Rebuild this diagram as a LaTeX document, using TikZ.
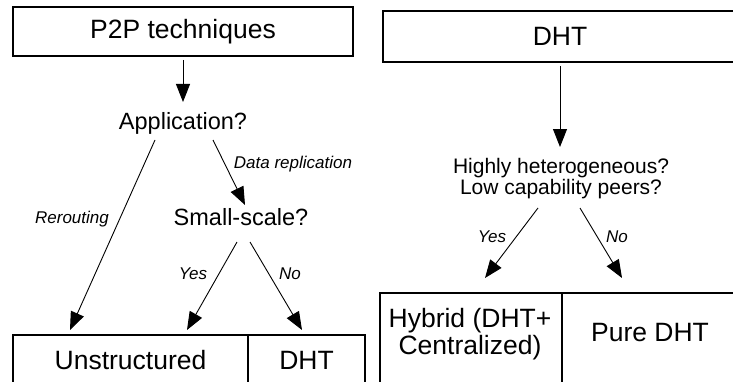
\documentclass[tikz,border=0pt]{standalone}
\usepackage{fontspec}
\setmainfont{Liberation Sans}
\usepackage{tikz}
\usetikzlibrary{arrows.meta, positioning}
\tikzstyle{every node}=[inner sep=0pt, outer sep=0pt]
\tikzset{CellStyle/.style = {
						shape          = rectangle,
			      draw           = black,
			      line width     = 1.2pt,
			      font           = \fontsize{26.5}{28}\selectfont},
			 TextStyle/.style = {
			      align          = center,
			      font           = \fontsize{26.5}{27}\selectfont},
			 QuestStyle/.style = {
			      align          = center,
			      font           = \fontsize{23.5}{26}\selectfont},
			 SmallQuestStyle/.style = {
			      align          = center,
			      font           = \fontsize{21}{21}\selectfont},
			 LabelStyle/.style = {
			      font           = \fontsize{17}{19}\selectfont\itshape},
			 ArrowStyle/.style = {
			      -{Triangle[length=18pt,width=14pt]},
			      line width     = 0.9pt}
						}

\begin{document}
\begin{tikzpicture}[x=1pt,y=1pt]
							\useasboundingbox (0,0) rectangle (733,381);
							% left tree
							\draw (183,349.5) node[CellStyle, minimum width=340pt, minimum height=49pt] (p2p) {P2P techniques};
							\draw (183,258) node[QuestStyle] (app) {Application?};
							\draw (241,164) node[QuestStyle] (small) {Small-scale?};
							\draw (130.5,21) node[CellStyle, minimum width=235pt, minimum height=50pt] (unstr) {Unstructured};
							\draw (306.5,21) node[CellStyle, minimum width=117pt, minimum height=50pt] (dhtL) {DHT};

							\draw (72,162) node[LabelStyle] (reroute) {Rerouting};
							\draw (293,217) node[LabelStyle] (datarep) {Data replication};
							\draw (193,107) node[LabelStyle] (yesL) {Yes};
							\draw (290,107) node[LabelStyle] (noL) {No};

							% right tree
							\draw (560,344.5) node[CellStyle, minimum width=354pt, minimum height=51pt] (dht) {DHT};
							\draw (561,202) node[SmallQuestStyle] (hetero) {Highly heterogeneous?\\Low capability peers?};
							\draw (471,34.5) node[CellStyle, minimum width=182pt, minimum height=107pt] (hybrid) {};
							\draw (650,34.5) node[CellStyle, minimum width=176pt, minimum height=107pt] (pure) {};
							\draw (470,47) node[TextStyle] (hybridtxt) {Hybrid (DHT+\\Centralized)};
							\draw (650,48) node[TextStyle] (puretxt) {Pure DHT};

							\draw (492,144) node[LabelStyle] (yesR) {Yes};
							\draw (617,144) node[LabelStyle] (noR) {No};

							\draw[ArrowStyle]    ([shift={(0,-28.5)}]p2p.center) to[] ([shift={(0,21)}]app.center);
							\draw[ArrowStyle]    ([shift={(-28,-17)}]app.center) to[] ([shift={(-60.5,30)}]unstr.center);
							\draw[ArrowStyle]    ([shift={(30,-17)}]app.center) to[] ([shift={(4,12)}]small.center);
							\draw[ArrowStyle]    ([shift={(-4,-25)}]small.center) to[] ([shift={(56.5,30)}]unstr.center);
							\draw[ArrowStyle]    ([shift={(9,-25)}]small.center) to[] ([shift={(-4.5,30)}]dhtL.center);

							\draw[ArrowStyle]    ([shift={(0,-29.5)}]dht.center) to[] ([shift={(-1,32)}]hetero.center);
							\draw[ArrowStyle]    ([shift={(-23,-29)}]hetero.center) to[] ([shift={(14,68.5)}]hybrid.center);
							\draw[ArrowStyle]    ([shift={(19,-29)}]hetero.center) to[] ([shift={(-28,68.5)}]pure.center);
\end{tikzpicture}
\end{document}
